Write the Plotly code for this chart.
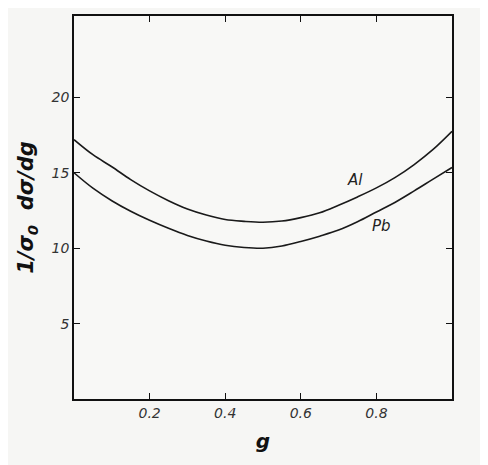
import plotly.graph_objects as go

g = [0, 0.05, 0.1, 0.15, 0.2, 0.25, 0.3, 0.35, 0.4, 0.45, 0.5,
     0.55, 0.6, 0.65, 0.7, 0.75, 0.8, 0.85, 0.9, 0.95, 1.0]
al = [17.2, 16.2, 15.4, 14.55, 13.8, 13.15, 12.6, 12.2, 11.9, 11.78, 11.72,
      11.8, 12.03, 12.35, 12.85, 13.4, 14.0, 14.7, 15.55, 16.55, 17.75]
pb = [15.0, 13.98, 13.15, 12.45, 11.85, 11.32, 10.85, 10.48, 10.2, 10.05, 10.0,
      10.15, 10.45, 10.8, 11.2, 11.75, 12.4, 13.05, 13.8, 14.58, 15.35]
x_ticks = [0.2, 0.4, 0.6, 0.8]
x_tick_text = ["0.2", "0.4", "0.6", "0.8"]
y_ticks = [5, 10, 15, 20]
labels = [("Al", 0.743, 14.5), ("Pb", 0.814, 11.5)]

fig = go.Figure()
for name, ys in (("Al", al), ("Pb", pb)):
    fig.add_trace(go.Scatter(x=g, y=ys, mode="lines", name=name,
                             line=dict(color="#1a1a1a", width=1.6, shape="spline", smoothing=1.0),
                             showlegend=False))

for txt, lx, ly in labels:
    fig.add_annotation(x=lx, y=ly, text=txt, showarrow=False,
                       font=dict(family="DejaVu Sans", size=15, color="#222", style="italic"))

axis_common = dict(showline=True, linecolor="#111", linewidth=1.5, mirror="allticks",
                   ticks="inside", ticklen=6, tickcolor="#111", showgrid=False, zeroline=False,
                   tickfont=dict(family="DejaVu Sans", size=14, color="#333", style="italic"))

fig.update_xaxes(range=[0, 1], tickvals=x_ticks, ticktext=x_tick_text,
                 title=dict(text="g", font=dict(family="DejaVu Sans", size=20, color="#111",
                                                 weight="bold", style="italic"), standoff=14),
                 **axis_common)
fig.update_yaxes(range=[0, 25.4], tickvals=y_ticks,
                 title=dict(text="1/σ<sub>0</sub>  dσ/dg",
                            font=dict(family="DejaVu Sans", size=21, color="#111",
                                      weight="bold", style="italic"), standoff=12),
                 **axis_common)

fig.update_layout(width=480, height=457, margin=dict(l=66, r=36, t=6, b=66),
                  paper_bgcolor="#f6f6f4", plot_bgcolor="#f8f8f6")

fig.write_html("out.html")
